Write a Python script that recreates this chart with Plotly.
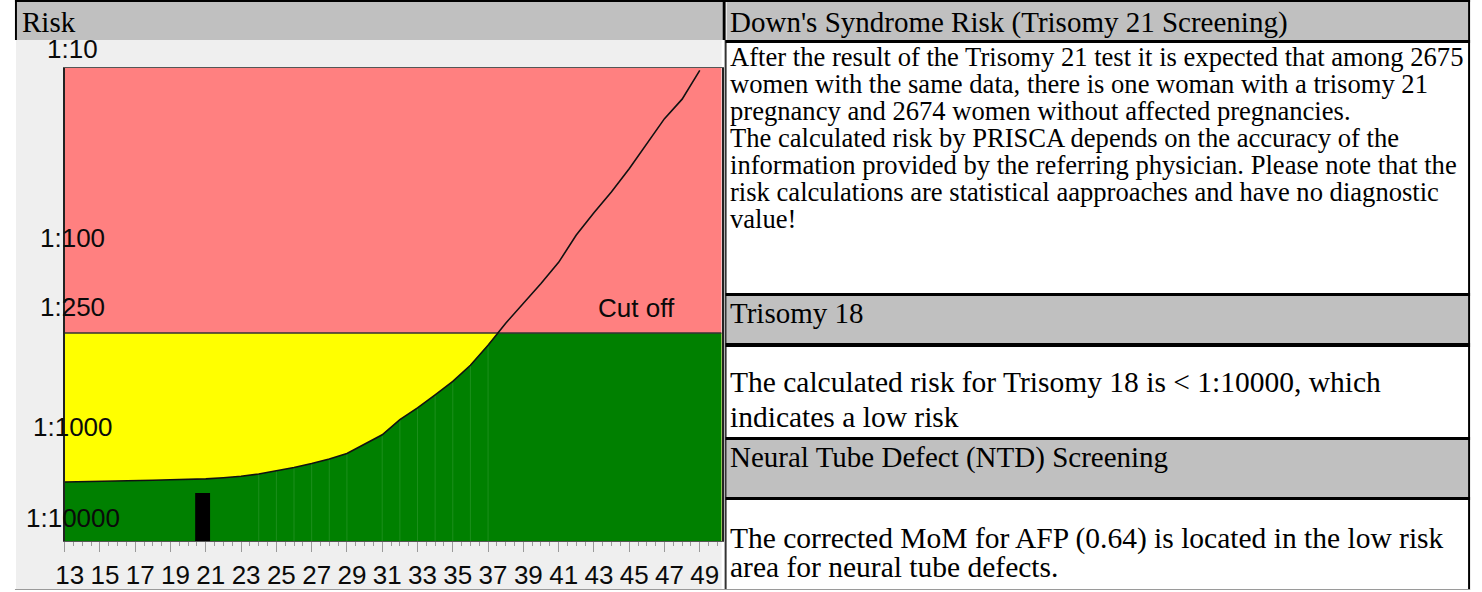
import numpy as np
import plotly.graph_objects as go

W, H = 1482, 592

# ---------------- data ----------------
ages = list(range(13, 50))
risk_denominator = [1526, 1522, 1518, 1512, 1505, 1495, 1485, 1478, 1470, 1450,
                    1425, 1385, 1335, 1280, 1220, 1155, 1080, 960, 860, 715,
                    620, 530, 450, 370, 290, 222, 175, 137, 106, 76,
                    58, 45, 34, 25, 18.5, 14.6, 10.3]
strip_ages = [24, 25, 26, 27, 28, 29, 31, 32, 33, 34, 35, 36, 37]
cutoff = 250
patient_age = 20.82
patient_bar_width = 0.845
patient_bar_top = 1744
x_range = [13, 50.24]
y_top, y_bottom = 10, 3126
x_tick_vals = list(range(13, 50, 2))
x_tick_text = [str(v) for v in x_tick_vals]
y_label_text = ["1:10", "1:100", "1:250", "1:1000"]
y_label_vals = [10, 100, 250, 1000]
y_label_shift = [19, 20, 26, 20]
bottom_label = "1:10000"
cutoff_label = "Cut off"
cutoff_label_age = 45.41

left_header = "Risk"
headers = ["Down's Syndrome Risk (Trisomy 21 Screening)", "Trisomy 18",
           "Neural Tube Defect (NTD) Screening"]
t21_lines = [
    "After the result of the Trisomy 21 test it is expected that among 2675",
    "women with the same data, there is one woman with a trisomy 21",
    "pregnancy and 2674 women without affected pregnancies.",
    "The calculated risk by PRISCA depends on the accuracy of the",
    "information provided by the referring physician. Please note that the",
    "risk calculations are statistical aapproaches and have no diagnostic",
    "value!",
]
t18_lines = ["The calculated risk for Trisomy 18 is &lt; 1:10000, which",
             "indicates a low risk"]
ntd_lines = ["The corrected MoM for AFP (0.64) is located in the low risk",
             "area for neural tube defects."]

# ---------------- helpers ----------------
def px(x):
    return x / W

def py(y):
    return 1 - y / H

shapes = []

def rect(x0, y0, x1, y1, color, layer="below"):
    shapes.append(dict(type="rect", xref="paper", yref="paper",
                       x0=px(x0), x1=px(x1), y0=py(y1), y1=py(y0),
                       fillcolor=color, line=dict(width=0), layer=layer))

# ---------------- traces ----------------
fig = go.Figure()
x0, x1 = x_range

# red (high risk) zone
fig.add_trace(go.Scatter(x=[x0, x1, x1, x0], y=[y_top, y_top, cutoff, cutoff],
                         mode="lines", line=dict(width=0), fill="toself",
                         fillcolor="#ff8080", hoverinfo="skip"))
# yellow zone
fig.add_trace(go.Scatter(x=[x0, x1, x1, x0], y=[cutoff, cutoff, y_bottom, y_bottom],
                         mode="lines", line=dict(width=0), fill="toself",
                         fillcolor="#ffff00", hoverinfo="skip"))
# green zone under the age curve, limited by the cutoff
gx, gy = [], []
for i, (a, d) in enumerate(zip(ages, risk_denominator)):
    if i > 0:
        d0 = risk_denominator[i - 1]
        if (d0 - cutoff) * (d - cutoff) < 0:
            t = (np.log10(d0) - np.log10(cutoff)) / (np.log10(d0) - np.log10(d))
            gx.append(ages[i - 1] + t * (a - ages[i - 1]))
            gy.append(cutoff)
    gx.append(a)
    gy.append(max(d, cutoff))
gx += [x1, x1, ages[0]]
gy += [cutoff, y_bottom, y_bottom]
fig.add_trace(go.Scatter(x=gx, y=gy, mode="lines", line=dict(width=0),
                         fill="toself", fillcolor="#008000", hoverinfo="skip"))
# faint strip lines inside the green area
sx, sy = [], []
for a in strip_ages:
    d = risk_denominator[ages.index(a)]
    sx += [a, a, None]
    sy += [y_bottom, max(d, cutoff), None]
fig.add_trace(go.Scatter(x=sx, y=sy, mode="lines",
                         line=dict(color="#1c8e1c", width=1), hoverinfo="skip"))
# cutoff line
fig.add_trace(go.Scatter(x=[x0, x1], y=[cutoff, cutoff], mode="lines",
                         line=dict(color="#333333", width=1.5), hoverinfo="skip"))
# age risk curve
fig.add_trace(go.Scatter(x=ages, y=risk_denominator, mode="lines",
                         line=dict(color="#111111", width=1.6), hoverinfo="skip"))
# patient bar
hw = patient_bar_width / 2
fig.add_trace(go.Scatter(x=[patient_age - hw, patient_age + hw, patient_age + hw, patient_age - hw],
                         y=[y_bottom, y_bottom, patient_bar_top, patient_bar_top],
                         mode="lines", line=dict(width=0), fill="toself",
                         fillcolor="#000000", hoverinfo="skip"))

# ---------------- table / frame shapes ----------------
rect(7, 40, 717, 589, "#efefef")           # chart image background
rect(8, 2, 718, 40, "#c0c0c0")             # left header
rect(722, 2, 1468, 40, "#c0c0c0")          # right headers
rect(722, 296, 1468, 343, "#c0c0c0")
rect(722, 440, 1468, 497, "#c0c0c0")
# borders
rect(6, 0, 1470, 2, "#000000", "above")
rect(6, 0, 8, 40, "#000000", "above")
rect(718, 0, 721, 40, "#000000", "above")
rect(720, 40, 722, 590, "#333333", "above")
rect(1468, 0, 1470, 590, "#000000", "above")
for yy0, yy1 in [(40, 43), (293, 296), (343, 347), (437, 440), (497, 500)]:
    rect(721, yy0, 1470, yy1, "#000000", "above")
rect(6, 589, 1470, 590, "#9a9a9a", "above")

# ---------------- annotations ----------------
ann = []
sans = "Liberation Sans"
serif = "Liberation Serif"
for txt, val, sh in zip(y_label_text, y_label_vals, y_label_shift):
    ann.append(dict(text=txt, xref="paper", x=px(64), xanchor="center",
                    yref="y", y=np.log10(val), yanchor="middle", yshift=sh,
                    showarrow=False, font=dict(family=sans, size=26, color="#0a0a0a")))
ann.append(dict(text=bottom_label, xref="paper", x=px(64), xanchor="center",
                yref="y domain", y=0, yanchor="middle", yshift=23,
                showarrow=False, font=dict(family=sans, size=26, color="#0a0a0a")))
ann.append(dict(text=cutoff_label, xref="x", x=cutoff_label_age, xanchor="center",
                yref="y", y=np.log10(cutoff), yanchor="middle", yshift=25,
                showarrow=False, font=dict(family=sans, size=26, color="#0a0a0a")))

def text(t, x, y, size):
    ann.append(dict(text=t, xref="paper", x=px(x), xanchor="left",
                    yref="paper", y=py(y), yanchor="middle", showarrow=False,
                    font=dict(family=serif, size=size, color="#000")))

text(left_header, 11, 22, 29)
for t, yc in zip(headers, [22, 313, 457]):
    text(t, 723, yc, 29)
for i, t in enumerate(t21_lines):
    text(t, 723, 57 + 27 * i, 26.6)
for t, yc in zip(t18_lines, [382, 417]):
    text(t, 723, yc, 29.5)
for t, yc in zip(ntd_lines, [538, 567]):
    text(t, 723, yc, 29.5)

fig.update_layout(
    width=W, height=H, margin=dict(l=0, r=0, t=0, b=0),
    paper_bgcolor="white", plot_bgcolor="#efefef", showlegend=False,
    xaxis=dict(domain=[px(56), px(717)], range=x_range, tickmode="array",
               tickvals=x_tick_vals, ticktext=x_tick_text, ticks="outside",
               ticklen=10, tickwidth=1, tickcolor="#9a9a9a",
               minor=dict(tick0=13, dtick=0.5, ticks="outside", ticklen=4,
                          tickwidth=1, tickcolor="#9a9a9a"),
               showgrid=False, zeroline=False, showline=True, linecolor="#555",
               linewidth=1, mirror=True, ticklabelshift=5, ticklabelstandoff=1,
               tickfont=dict(family=sans, size=26, color="#0a0a0a")),
    yaxis=dict(domain=[py(541), py(68)], type="log",
               range=[np.log10(y_bottom), np.log10(y_top)],
               showticklabels=False, ticks="", showgrid=False, zeroline=False,
               showline=True, linecolor="#222", linewidth=2, mirror=True),
    shapes=shapes, annotations=ann,
)

fig.write_html("out.html",
               config={"displayModeBar": False},
               post_script="document.body.style.margin='0px';"
                           "document.body.style.overflow='hidden';")
